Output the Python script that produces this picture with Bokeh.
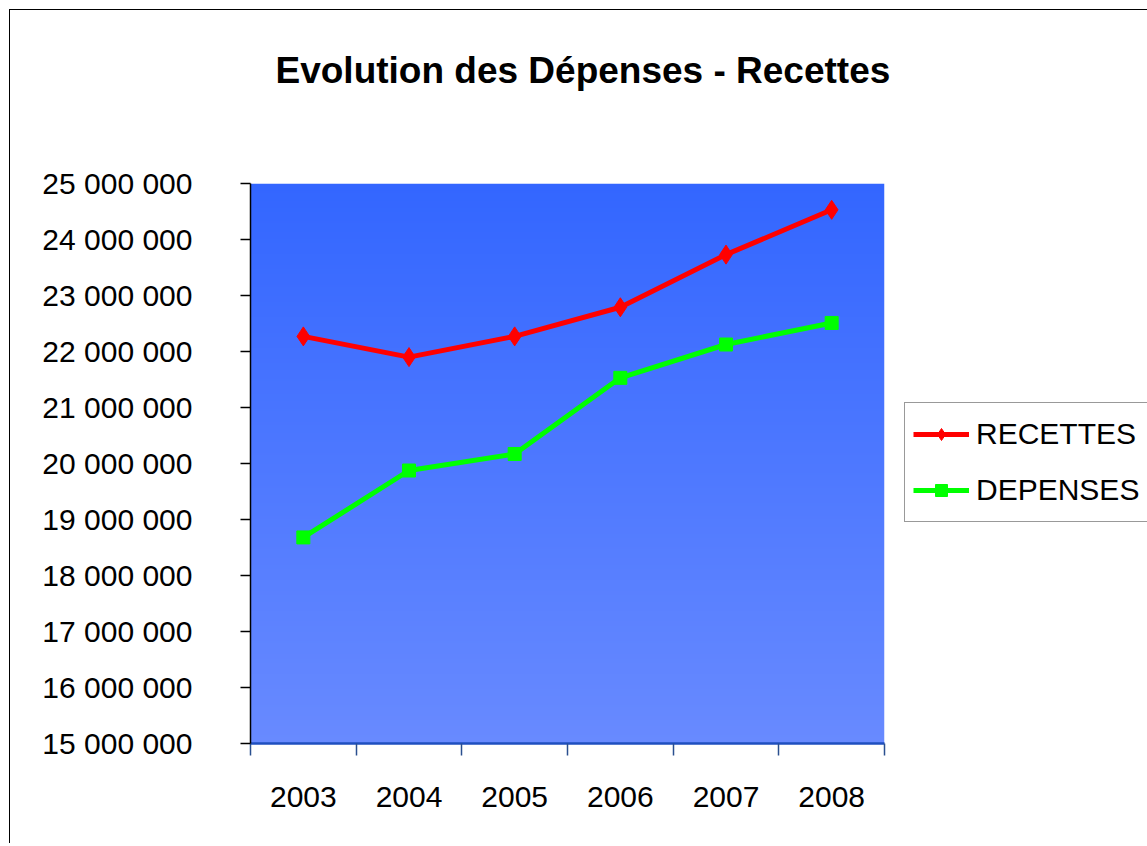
import numpy as np
from bokeh.plotting import figure
from bokeh.models import (Range1d, FixedTicker, Legend, LegendItem, Title)
from bokeh.embed import file_html
from bokeh.resources import INLINE

# ---- data ----
years = ["2003", "2004", "2005", "2006", "2007", "2008"]
recettes = [22270000, 21900000, 22270000, 22790000, 23730000, 24530000]
depenses = [18680000, 19875000, 20170000, 21530000, 22125000, 22510000]
y_ticks = [15000000, 16000000, 17000000, 18000000, 19000000, 20000000,
           21000000, 22000000, 23000000, 24000000, 25000000]
y_tick_labels = ["15 000 000", "16 000 000", "17 000 000", "18 000 000",
                 "19 000 000", "20 000 000", "21 000 000", "22 000 000",
                 "23 000 000", "24 000 000", "25 000 000"]
title_text = "Evolution des Dépenses - Recettes"

FONT = "Liberation Sans"

n = len(years)
y_min, y_max = y_ticks[0], y_ticks[-1]
xs = [i + 0.5 for i in range(n)]

p = figure(frame_width=634, frame_height=560,
           x_range=Range1d(0, n), y_range=Range1d(y_min, y_max),
           output_backend="svg", toolbar_location=None,
           min_border_left=240, min_border_right=262,
           min_border_top=173, min_border_bottom=100)
p.title = None
p.styles = {"margin-left": "9px", "margin-top": "9px",
            "border-left": "1px solid black", "border-top": "1px solid black"}
p.outline_line_color = None
p.background_fill_color = "white"
p.border_fill_color = "white"
p.xgrid.visible = False
p.ygrid.visible = False

# gradient background of the plot area
top = np.array([0x33, 0x66, 0xFF])
bot = np.array([0x68, 0x8A, 0xFF])
N = 256
pal = []
for t in np.linspace(0, 1, N):
    c = (bot + (top - bot) * t).round().astype(int)
    pal.append("#%02x%02x%02x" % tuple(c))
grad = np.linspace(0, N - 1, N).reshape(N, 1)
p.image(image=[grad], x=0, y=y_min, dw=n, dh=y_max - y_min, palette=pal)

# series
r_line = p.line(xs, recettes, line_color="#FF0000", line_width=5)
r_mark = p.scatter(xs, recettes, marker="diamond", size=19,
                   fill_color="#FF0000", line_color="#FF0000")
d_line = p.line(xs, depenses, line_color="#00FF00", line_width=5)
d_mark = p.scatter(xs, depenses, marker="square", size=13,
                   fill_color="#00FF00", line_color="#00FF00")

# title (a thin spacer title sits between the real title and the frame)
spacer = Title(text=" ", text_font=FONT, text_font_size="1px",
               standoff=90, text_color="white")
main_title = Title(text=title_text, align="left", offset=25, text_font=FONT,
                   text_font_size="37px", text_font_style="bold",
                   text_color="black", standoff=0)
p.add_layout(spacer, "above")
p.add_layout(main_title, "above")

# y axis
ya = p.yaxis[0]
ya.ticker = FixedTicker(ticks=y_ticks, minor_ticks=[])
ya.major_label_overrides = {v: l for v, l in zip(y_ticks, y_tick_labels)}
ya.major_label_text_font = FONT
ya.major_label_text_font_size = "30px"
ya.major_label_text_color = "black"
ya.major_label_standoff = 48
ya.axis_line_color = "black"
ya.axis_line_width = 1.5
ya.major_tick_line_color = "black"
ya.major_tick_line_width = 1.5
ya.major_tick_out = 10
ya.major_tick_in = 0

# x axis
xa = p.xaxis[0]
xa.ticker = FixedTicker(ticks=xs, minor_ticks=list(range(n + 1)))
xa.major_label_overrides = {x: y for x, y in zip(xs, years)}
xa.major_label_text_font = FONT
xa.major_label_text_font_size = "30px"
xa.major_label_text_color = "black"
xa.major_label_standoff = 31
xa.major_tick_out = 0
xa.major_tick_in = 0
xa.major_tick_line_color = None
xa.minor_tick_out = 12
xa.minor_tick_in = 0
xa.minor_tick_line_color = "#2A4F8F"
xa.minor_tick_line_width = 1.5
xa.axis_line_color = "#1F4FBF"
xa.axis_line_width = 2.5

legend = Legend(items=[
    LegendItem(label="RECETTES", renderers=[r_line, r_mark]),
    LegendItem(label="DEPENSES", renderers=[d_line, d_mark]),
], location=(20, 221), orientation="vertical")
legend.label_text_font = FONT
legend.label_text_font_size = "30px"
legend.label_text_color = "black"
legend.border_line_color = "#333333"
legend.border_line_width = 1
legend.background_fill_color = "white"
legend.glyph_width = 56
legend.glyph_height = 30
legend.label_height = 46
legend.label_width = 162
legend.label_standoff = 7
legend.spacing = 10
legend.padding = 8
legend.margin = 0
p.add_layout(legend, "right")

open("out.html", "w").write(file_html(p, INLINE))
